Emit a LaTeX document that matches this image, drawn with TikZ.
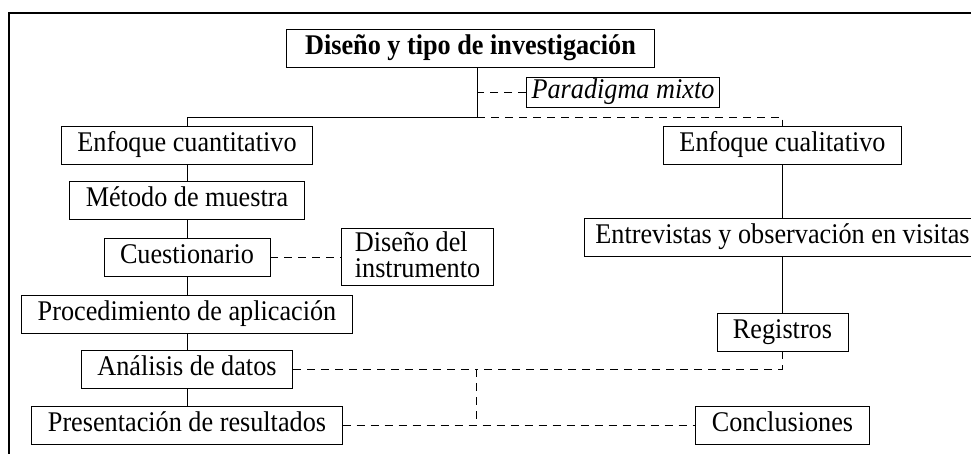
\documentclass[tikz,border=0pt]{standalone}
\usepackage{fontspec}
\setmainfont[FakeStretch=0.92]{Liberation Serif}
\usetikzlibrary{positioning,calc}
\tikzset{nd/.style={rectangle,draw,line width=0.9pt,align=center,inner xsep=16pt,inner ysep=0pt,
    minimum height=38pt,text height=19.5pt,text depth=6.5pt,font=\fontsize{28.5pt}{24pt}\selectfont},
  ln/.style={line width=0.9pt},
  dsh/.style={line width=0.9pt,dash pattern=on 8pt off 6pt}}

\begin{document}
\begin{tikzpicture}[x=1pt,y=-1pt]
	\useasboundingbox (0,0) rectangle (971,453);

	\def\xl{187};
	\def\xr{782.5};

	% frame
	\draw[line width=2.4pt] (9,460) -- (9,13) -- (980,13);

	\node[nd,inner xsep=19pt] (dis) at (470.5,48) {\textbf{Diseño y tipo de investigación}};
	\node[nd,inner xsep=5pt,minimum height=30pt] (par) at (623,92) {\textit{Paradigma mixto}};

	\foreach \name/\y/\txt in {cuan/145/Enfoque cuantitativo, met/200/Método de muestra,
	    cue/257/Cuestionario, pro/314/Procedimiento de aplicación,
	    ana/369/Análisis de datos, pre/425/Presentación de resultados} {
		\node[nd] (\name) at (\xl,\y) {\txt};
	}
	\foreach \name/\y/\txt in {cual/145/Enfoque cualitativo, reg/332/Registros, con/425/Conclusiones} {
		\node[nd] (\name) at (\xr,\y) {\txt};
	}
	\node[nd,inner xsep=11pt] (ent) at (\xr,237) {Entrevistas y observación en visitas};
	\node[nd,align=left,inner xsep=13pt,minimum height=57pt,text height=45pt,text depth=5pt,
	    font=\fontsize{28.5pt}{26pt}\selectfont] (ins) at (417.5,257) {Diseño del\\instrumento};

	\coordinate (trunk) at (477,117);
	\coordinate (jn) at (476,369);

	\draw[ln] (dis.south -| trunk) -- (trunk) -| (cuan.north);
	\draw[dsh] (trunk) -| (cual.north);
	\draw[dsh] (par.west) -- (par.west -| trunk);

	\foreach \a/\b in {cuan/met, met/cue, cue/pro, pro/ana, ana/pre, cual/ent, ent/reg}
		\draw[ln] (\a) -- (\b);

	\draw[dsh] (cue.east) -- (ins.west);
	\draw[dsh] (ana.east) -- (jn);
	\draw[dsh] (reg.south) |- (jn);
	\draw[dsh] (jn) -- (jn |- pre.east);
	\draw[dsh] (pre.east) -- (con.west);
\end{tikzpicture}
\end{document}
